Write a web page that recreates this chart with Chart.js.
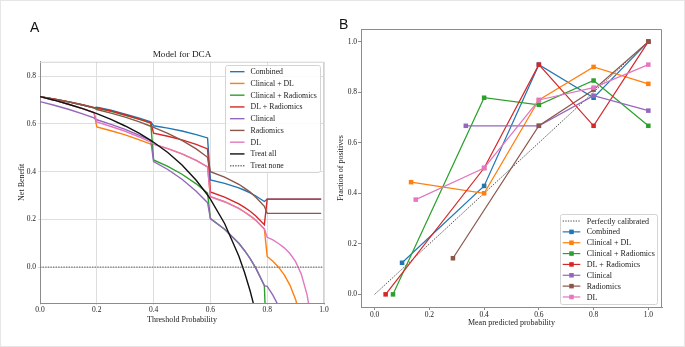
<!DOCTYPE html>
<html>
<head>
<meta charset="utf-8">
<script src="https://cdn.jsdelivr.net/npm/chart.js@4.4.1/dist/chart.umd.min.js"></script>
<style>
  html, body { margin: 0; padding: 0; background: #fff; }
  #fig { position: relative; width: 685px; height: 347px; overflow: hidden; }
  .panel { position: absolute; top: 0; height: 347px; }
  #boxA { left: 0; width: 340px; }
  #boxB { left: 330px; width: 355px; }
  .tag { position: absolute; font-family: "Liberation Sans", Arial, sans-serif; font-size: 14px; line-height: 14px; color: #111; }
  #frame { position: absolute; left: 0; top: 0; width: 685px; height: 347px; box-sizing: border-box; border: 1px solid #e6e6e6; pointer-events: none; }
</style>
</head>
<body>
<div id="fig">
  <div class="panel" id="boxA"><canvas id="dca"></canvas></div>
  <div class="panel" id="boxB"><canvas id="calib"></canvas></div>
  <div class="tag" style="left:30px; top:20px;">A</div>
  <div class="tag" style="left:339px; top:17px;">B</div>
  <div id="frame"></div>
</div>
<script>
// ---- panel A: decision curves (net benefit per threshold) ----
const thresholds = [0, 0.05, 0.1, 0.15, 0.19, 0.2, 0.25, 0.3, 0.35, 0.39, 0.4, 0.45, 0.5, 0.55, 0.59, 0.6,
  0.65, 0.7, 0.72, 0.74, 0.76, 0.79, 0.8, 0.82, 0.84, 0.86, 0.88, 0.9, 0.92, 0.94, 0.95, 0.99];

const combinedNB = [0.714, 0.703, 0.692, 0.679, 0.667, 0.670, 0.657, 0.641, 0.624, 0.608,
  0.592, 0.582, 0.570, 0.555, 0.541, 0.365, 0.351, 0.332, 0.322, 0.311, 0.298, 0.275,
  0.285, 0.285, 0.285, 0.285, 0.285, 0.285, 0.285, 0.285, 0.285, 0.285];
const clinDlNB = [0.714, 0.699, 0.682, 0.664, 0.647, 0.587, 0.571, 0.554, 0.533, 0.515,
  0.515, 0.496, 0.474, 0.447, 0.420, 0.295, 0.274, 0.246, 0.231, 0.215, 0.196, 0.160,
  0.045, 0.025, 0.000, -0.032, -0.075, -0.135, -0.225, null, null, null];
const clinRadNB = [0.714, 0.703, 0.692, 0.679, 0.667, 0.665, 0.652, 0.636, 0.619, 0.603,
  0.449, 0.422, 0.389, 0.349, 0.310, 0.203, 0.159, 0.100, 0.070, 0.036, -0.004, -0.077,
  -0.4, null, null, null, null, null, null, null, null, null];
const dlRadNB = [0.714, 0.704, 0.693, 0.680, 0.669, 0.668, 0.654, 0.638, 0.620, 0.604,
  0.561, 0.548, 0.533, 0.514, 0.495, 0.315, 0.293, 0.265, 0.250, 0.234, 0.214, 0.178,
  0.285, 0.285, 0.285, 0.285, 0.285, 0.285, 0.285, 0.285, 0.285, 0.285];
const clinicalNB = [0.693, 0.678, 0.661, 0.642, 0.625, 0.617, 0.598, 0.577, 0.552, 0.530,
  0.442, 0.409, 0.368, 0.318, 0.270, 0.203, 0.159, 0.100, 0.070, 0.036, -0.004, -0.077,
  -0.080, -0.117, -0.163, null, null, null, null, null, null, null];
const radiomicsNB = [0.714, 0.703, 0.692, 0.679, 0.667, 0.660, 0.645, 0.628, 0.608, 0.590,
  0.585, 0.560, 0.531, 0.495, 0.460, 0.400, 0.377, 0.347, 0.331, 0.314, 0.293, 0.255,
  0.225, 0.225, 0.225, 0.225, 0.225, 0.225, 0.225, 0.225, 0.225, 0.225];
const dlNB = [0.714, 0.699, 0.682, 0.664, 0.647, 0.608, 0.589, 0.569, 0.545, 0.523,
  0.515, 0.496, 0.474, 0.447, 0.420, 0.295, 0.274, 0.246, 0.231, 0.215, 0.196, 0.160,
  0.125, 0.114, 0.099, 0.081, 0.057, 0.023, -0.029, -0.114, -0.182, null];
const treatAllNB = [0.714, 0.699, 0.682, 0.664, 0.647, 0.643, 0.619, 0.591, 0.560, 0.531,
  0.523, 0.480, 0.428, 0.364, 0.302, 0.285, 0.183, 0.047, -0.021, -0.100, -0.192, null,
  null, null, null, null, null, null, null, null, null, null];
const treatNoneX = [0, 1];
const treatNoneNB = [0, 0];

const dcaXTicks = [0, 0.2, 0.4, 0.6, 0.8, 1.0];
const dcaYTicks = [0, 0.2, 0.4, 0.6, 0.8];

// ---- panel B: calibration curves ----
const calCombinedX = [0.10, 0.40, 0.60, 0.80, 1.00];
const calCombinedY = [0.125, 0.429, 0.909, 0.778, 1.00];
const calClinDlX = [0.133, 0.40, 0.60, 0.80, 1.00];
const calClinDlY = [0.444, 0.40, 0.769, 0.90, 0.833];
const calClinRadX = [0.067, 0.40, 0.60, 0.80, 1.00];
const calClinRadY = [0.0, 0.778, 0.75, 0.846, 0.667];
const calDlRadX = [0.04, 0.40, 0.60, 0.80, 1.00];
const calDlRadY = [0.0, 0.50, 0.909, 0.667, 1.00];
const calClinicalX = [0.333, 0.60, 0.80, 1.00];
const calClinicalY = [0.667, 0.667, 0.786, 0.727];
const calRadiomicsX = [0.286, 0.60, 0.80, 1.00];
const calRadiomicsY = [0.143, 0.667, 0.81, 1.00];
const calDlX = [0.15, 0.40, 0.60, 0.80, 1.00];
const calDlY = [0.375, 0.50, 0.769, 0.818, 0.909];
const perfectX = [0, 1];
const perfectY = [0, 1];

const calTicks = [0, 0.2, 0.4, 0.6, 0.8, 1.0];

const serif = '"Liberation Serif", "Times New Roman", serif';
const colors = ['#1f77b4', '#ff7f0e', '#2ca02c', '#d62728', '#9467bd', '#8c564b', '#e377c2'];
const modelNames = ['Combined', 'Clinical + DL', 'Clinical + Radiomics', 'DL + Radiomics', 'Clinical', 'Radiomics', 'DL'];

const pts = (xs, ys) => xs.map((x, i) => ({ x: x, y: ys[i] }));
const setTicks = values => scale => { scale.ticks = values.map(v => ({ value: v })); };

// legend drawn inside the plot area, like matplotlib's
const boxLegend = {
  id: 'boxLegend',
  afterDraw(chart, args, o) {
    const ctx = chart.ctx, a = chart.chartArea;
    const sets = chart.data.datasets;
    ctx.save();
    ctx.font = o.font;
    const textW = Math.max(...sets.map(d => ctx.measureText(d.label).width));
    const w = o.padL + o.sample + o.gap + textW + o.padR;
    const h = sets.length * o.row + 2 * o.padY;
    const x0 = Math.round(a.right - o.inset - w);
    const y0 = Math.round(o.atTop ? a.top + o.insetY : a.bottom - o.insetY - h);
    ctx.fillStyle = 'rgba(255,255,255,0.85)';
    ctx.strokeStyle = '#d4d4d4';
    ctx.lineWidth = 1;
    ctx.beginPath();
    ctx.roundRect(x0 + 0.5, y0 + 0.5, Math.round(w), Math.round(h), 2);
    ctx.fill();
    ctx.stroke();
    sets.forEach((d, i) => {
      const cy = y0 + o.padY + o.row * (i + 0.5);
      const lx = x0 + o.padL;
      ctx.strokeStyle = d.borderColor;
      ctx.lineWidth = d.borderWidth;
      ctx.setLineDash(d.borderDash || []);
      ctx.beginPath();
      ctx.moveTo(lx, cy);
      ctx.lineTo(lx + o.sample, cy);
      ctx.stroke();
      ctx.setLineDash([]);
      if (d.pointRadius) {
        const s = d.pointRadius * Math.SQRT1_2;
        ctx.fillStyle = d.borderColor;
        ctx.fillRect(lx + o.sample / 2 - s, cy - s, 2 * s, 2 * s);
      }
      ctx.fillStyle = '#222';
      ctx.textBaseline = 'middle';
      ctx.fillText(d.label, lx + o.sample + o.gap, cy + 0.5);
    });
    ctx.restore();
  }
};

// top and right spines
const spines = {
  id: 'spines',
  afterDatasetsDraw(chart, args, o) {
    const ctx = chart.ctx, a = chart.chartArea;
    ctx.save();
    ctx.strokeStyle = o.color;
    ctx.lineWidth = 1;
    ctx.beginPath();
    ctx.moveTo(a.left, a.top + 0.5);
    ctx.lineTo(a.right - 0.5, a.top + 0.5);
    ctx.lineTo(a.right - 0.5, a.bottom);
    ctx.stroke();
    ctx.restore();
  }
};

Chart.defaults.font.family = serif;
Chart.defaults.color = '#222';

const dcaSeries = [combinedNB, clinDlNB, clinRadNB, dlRadNB, clinicalNB, radiomicsNB, dlNB];
const dcaSets = dcaSeries.map((ys, i) => ({
  label: modelNames[i],
  data: pts(thresholds, ys),
  borderColor: colors[i],
  borderWidth: 1.4,
  pointRadius: 0,
  order: 20 - i
}));
dcaSets.push({ label: 'Treat all', data: pts(thresholds, treatAllNB), borderColor: '#111', borderWidth: 1.4, pointRadius: 0, order: 12 });
dcaSets.push({ label: 'Treat none', data: pts(treatNoneX, treatNoneNB), borderColor: '#777', borderWidth: 1.4, borderDash: [1.4, 1.2], pointRadius: 0, order: 11 });

new Chart(document.getElementById('dca'), {
  type: 'line',
  data: { datasets: dcaSets },
  options: {
    responsive: true,
    maintainAspectRatio: false,
    animation: false,
    devicePixelRatio: 1,
    spanGaps: false,
    elements: { line: { tension: 0 } },
    layout: { padding: { left: 0, top: 45.5, right: 16, bottom: 0 } },
    plugins: {
      legend: { display: false },
      tooltip: { enabled: false },
      title: {
        display: true,
        text: 'Model for DCA',
        fullSize: false,
        color: '#222',
        font: { family: serif, size: 9.2, weight: 'normal' },
        padding: { top: 4, bottom: 1.2 }
      },
      spines: { color: '#d2d2d2' },
      boxLegend: { font: '7.8px ' + serif, padL: 5, sample: 14.5, gap: 6, padR: 3, row: 11.75, padY: 0.8, inset: 4, insetY: 3, atTop: true }
    },
    scales: {
      x: {
        type: 'linear', min: 0, max: 1,
        afterBuildTicks: setTicks(dcaXTicks),
        afterFit: s => { s.height = 44; s.paddingLeft = 0; s.paddingRight = 0; },
        grid: { color: '#dedede', lineWidth: 1, tickLength: 2 },
        border: { display: true, color: '#8c8c8c', width: 1 },
        ticks: { padding: 1, maxRotation: 0, font: { size: 7.5 }, color: '#222', callback: v => v.toFixed(1) },
        title: { display: true, text: 'Threshold Probability', color: '#222', font: { size: 8 }, padding: { top: 0, bottom: 22.2 } }
      },
      y: {
        type: 'linear', min: -0.15, max: 0.86,
        afterBuildTicks: setTicks(dcaYTicks),
        afterFit: s => { s.width = 40; s.paddingTop = 0; s.paddingBottom = 0; },
        grid: { color: '#dedede', lineWidth: 1, tickLength: 2 },
        border: { display: true, color: '#8c8c8c', width: 1 },
        ticks: { padding: 2, font: { size: 7.5 }, color: '#222', callback: v => v.toFixed(1) },
        title: { display: true, text: 'Net Benefit', color: '#222', font: { size: 8 }, padding: { top: 16.9, bottom: 0 } }
      }
    }
  },
  plugins: [spines, boxLegend]
});

const calXs = [calCombinedX, calClinDlX, calClinRadX, calDlRadX, calClinicalX, calRadiomicsX, calDlX];
const calYs = [calCombinedY, calClinDlY, calClinRadY, calDlRadY, calClinicalY, calRadiomicsY, calDlY];
const calSets = [{
  label: 'Perfectly calibrated',
  data: pts(perfectX, perfectY),
  borderColor: '#333',
  borderWidth: 0.9,
  borderDash: [1.3, 1.3],
  pointRadius: 0,
  order: 30
}];
calXs.forEach((xs, i) => calSets.push({
  label: modelNames[i],
  data: pts(xs, calYs[i]),
  borderColor: colors[i],
  backgroundColor: colors[i],
  borderWidth: 1.2,
  pointStyle: 'rect',
  pointRadius: 3.2,
  pointBorderWidth: 0,
  order: 20 - i
}));

new Chart(document.getElementById('calib'), {
  type: 'line',
  data: { datasets: calSets },
  options: {
    responsive: true,
    maintainAspectRatio: false,
    animation: false,
    devicePixelRatio: 1,
    elements: { line: { tension: 0 } },
    layout: { padding: { left: 0, top: 29, right: 23, bottom: 0 } },
    plugins: {
      legend: { display: false },
      tooltip: { enabled: false },
      spines: { color: '#8c8c8c' },
      boxLegend: { font: '8px ' + serif, padL: 2.7, sample: 17.6, gap: 6.4, padR: 2.6, row: 10.85, padY: 1.6, inset: 4.7, insetY: 3.3, atTop: false }
    },
    scales: {
      x: {
        type: 'linear', min: -0.05, max: 1.05,
        afterBuildTicks: setTicks(calTicks),
        afterFit: s => { s.height = 40; s.paddingLeft = 0; s.paddingRight = 0; },
        grid: { drawOnChartArea: false, drawTicks: true, tickLength: 3, color: '#8c8c8c' },
        border: { display: true, color: '#8c8c8c', width: 1 },
        ticks: { padding: 1, maxRotation: 0, font: { size: 7.5 }, color: '#222', callback: v => v.toFixed(1) },
        title: { display: true, text: 'Mean predicted probability', color: '#222', font: { size: 8 }, padding: { top: 0, bottom: 18.9 } }
      },
      y: {
        type: 'linear', min: -0.05, max: 1.05,
        afterBuildTicks: setTicks(calTicks),
        afterFit: s => { s.width = 31; s.paddingTop = 0; s.paddingBottom = 0; },
        grid: { drawOnChartArea: false, drawTicks: true, tickLength: 3, color: '#8c8c8c' },
        border: { display: true, color: '#8c8c8c', width: 1 },
        ticks: { padding: 1, font: { size: 7.5 }, color: '#222', callback: v => v.toFixed(1) },
        title: { display: true, text: 'Fraction of positives', color: '#222', font: { size: 8 }, padding: { top: 6.2, bottom: 0 } }
      }
    }
  },
  plugins: [spines, boxLegend]
});
</script>
</body>
</html>
